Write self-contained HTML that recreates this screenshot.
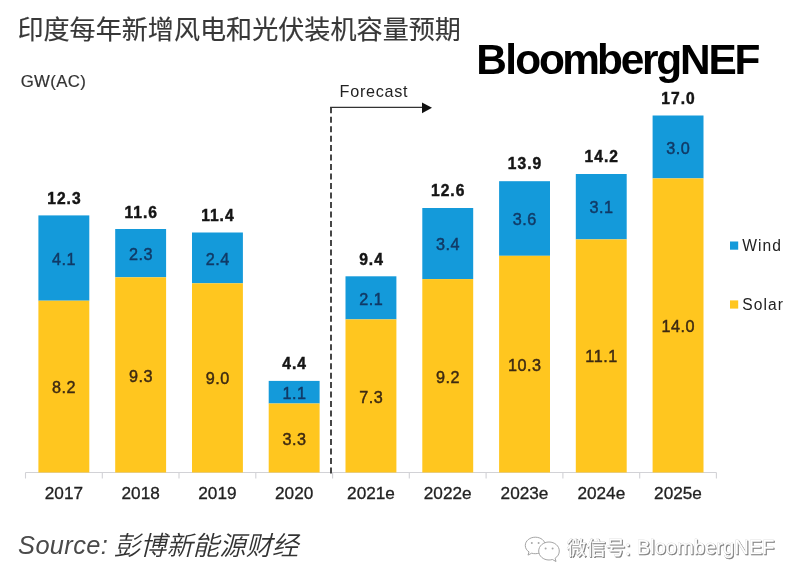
<!DOCTYPE html>
<html lang="zh">
<head>
<meta charset="utf-8">
<title>印度每年新增风电和光伏装机容量预期</title>
<style>
html,body{margin:0;padding:0;background:#fff;}
body{width:800px;height:585px;overflow:hidden;position:relative;}
svg{display:block;position:absolute;left:0;top:0;}
text{font-family:"Liberation Sans","Noto Sans CJK SC",sans-serif;}
.lat{font-family:"Liberation Sans",sans-serif;}
.cjk{font-family:"Liberation Sans","Noto Sans CJK SC",sans-serif;}
.tot{font-weight:bold;font-size:15.6px;fill:#151515;text-anchor:middle;letter-spacing:1.0px;stroke:#151515;stroke-width:0.45px;}
.val{font-size:16.2px;fill:#113a66;text-anchor:middle;letter-spacing:0.5px;stroke:#113a66;stroke-width:0.45px;}
.vals{font-size:16.2px;fill:#3d2a12;text-anchor:middle;letter-spacing:0.5px;stroke:#3d2a12;stroke-width:0.45px;}
.cat{font-size:17.2px;fill:#222;text-anchor:middle;stroke:#222;stroke-width:0.3px;}
</style>
</head>
<body>
<svg width="800" height="585" viewBox="0 0 800 585">
<defs><filter id="sh" x="-5%" y="-30%" width="110%" height="160%"><feOffset in="SourceAlpha" dx="0.9" dy="0.9" result="o"/><feFlood flood-color="#7d7d7d"/><feComposite in2="o" operator="in" result="s"/><feMerge><feMergeNode in="s"/><feMergeNode in="SourceGraphic"/></feMerge></filter></defs>
<rect x="0" y="0" width="800" height="585" fill="#ffffff"/>
<text class="cjk" transform="translate(17.4 39.2) scale(1 1.01)" font-size="26.1" fill="#383838" stroke="#383838" stroke-width="0.15">印度每年新增风电和光伏装机容量预期</text>
<text class="lat" x="476.2" y="74.1" font-size="42.4" font-weight="bold" fill="#000" letter-spacing="-2.22" dx="0 0.6 0.5 0 -0.5 -0.6">BloombergNEF</text>
<text class="lat" x="20.7" y="86.8" font-size="16.8" fill="#333" letter-spacing="0.35" stroke="#333" stroke-width="0.2">GW(AC)</text>
<text class="lat" x="339.6" y="97.3" font-size="16.2" fill="#222" letter-spacing="0.7">Forecast</text>
<path d="M25.5 472.5H716.4" stroke="#d2d2d6" stroke-width="1.1" fill="none"/>
<path d="M25.5 472.5V478.5M102.3 472.5V478.5M179.0 472.5V478.5M255.8 472.5V478.5M332.6 472.5V478.5M409.3 472.5V478.5M486.1 472.5V478.5M562.9 472.5V478.5M639.7 472.5V478.5M716.4 472.5V478.5" stroke="#d2d2d6" stroke-width="1.1" fill="none"/>
<rect x="38.4" y="215.4" width="50.9" height="85.3" fill="#149ada"/><rect x="38.4" y="300.7" width="50.9" height="171.8" fill="#ffc61f"/>
<text class="lat tot" x="64.4" y="203.6">12.3</text><text class="lat val" x="64.1" y="264.7">4.1</text><text class="lat vals" x="64.1" y="393.4">8.2</text><text class="lat cat" x="63.9" y="499.2">2017</text>
<rect x="115.2" y="229.0" width="50.9" height="48.3" fill="#149ada"/><rect x="115.2" y="277.3" width="50.9" height="195.2" fill="#ffc61f"/>
<text class="lat tot" x="141.2" y="218.3">11.6</text><text class="lat val" x="140.9" y="259.8">2.3</text><text class="lat vals" x="140.9" y="381.7">9.3</text><text class="lat cat" x="140.7" y="499.2">2018</text>
<rect x="192.0" y="232.5" width="50.9" height="50.8" fill="#149ada"/><rect x="192.0" y="283.3" width="50.9" height="189.2" fill="#ffc61f"/>
<text class="lat tot" x="217.9" y="220.7">11.4</text><text class="lat val" x="217.7" y="264.5">2.4</text><text class="lat vals" x="217.7" y="383.7">9.0</text><text class="lat cat" x="217.4" y="499.2">2019</text>
<rect x="268.7" y="380.9" width="50.9" height="22.6" fill="#149ada"/><rect x="268.7" y="403.5" width="50.9" height="69.0" fill="#ffc61f"/>
<text class="lat tot" x="294.7" y="369.1">4.4</text><text class="lat val" x="294.4" y="398.8">1.1</text><text class="lat vals" x="294.4" y="444.8">3.3</text><text class="lat cat" x="294.2" y="499.2">2020</text>
<rect x="345.5" y="276.3" width="50.9" height="43.1" fill="#149ada"/><rect x="345.5" y="319.4" width="50.9" height="153.1" fill="#ffc61f"/>
<text class="lat tot" x="371.5" y="264.5">9.4</text><text class="lat val" x="371.2" y="304.5">2.1</text><text class="lat vals" x="371.2" y="402.8">7.3</text><text class="lat cat" x="371.0" y="499.2">2021e</text>
<rect x="422.3" y="208.0" width="50.9" height="71.1" fill="#149ada"/><rect x="422.3" y="279.1" width="50.9" height="193.4" fill="#ffc61f"/>
<text class="lat tot" x="448.2" y="196.2">12.6</text><text class="lat val" x="448.0" y="250.2">3.4</text><text class="lat vals" x="448.0" y="382.6">9.2</text><text class="lat cat" x="447.7" y="499.2">2022e</text>
<rect x="499.1" y="181.2" width="50.9" height="74.6" fill="#149ada"/><rect x="499.1" y="255.8" width="50.9" height="216.7" fill="#ffc61f"/>
<text class="lat tot" x="525.0" y="169.4">13.9</text><text class="lat val" x="524.8" y="225.1">3.6</text><text class="lat vals" x="524.8" y="370.9">10.3</text><text class="lat cat" x="524.5" y="499.2">2023e</text>
<rect x="575.8" y="174.0" width="50.9" height="65.4" fill="#149ada"/><rect x="575.8" y="239.4" width="50.9" height="233.1" fill="#ffc61f"/>
<text class="lat tot" x="601.8" y="162.2">14.2</text><text class="lat val" x="601.5" y="213.3">3.1</text><text class="lat vals" x="601.5" y="361.8">11.1</text><text class="lat cat" x="601.3" y="499.2">2024e</text>
<rect x="652.6" y="115.5" width="50.9" height="62.9" fill="#149ada"/><rect x="652.6" y="178.4" width="50.9" height="294.1" fill="#ffc61f"/>
<text class="lat tot" x="678.5" y="103.7">17.0</text><text class="lat val" x="678.3" y="153.5">3.0</text><text class="lat vals" x="678.3" y="332.2">14.0</text><text class="lat cat" x="678.0" y="499.2">2025e</text>
<path d="M331 107.2V474" stroke="#333" stroke-width="1.8" stroke-dasharray="6 3.48" fill="none"/>
<path d="M330.1 107.4H423" stroke="#333" stroke-width="1.3" fill="none"/>
<path d="M422 102.5L432 107.8L422 113.2Z" fill="#111"/>
<rect x="730" y="241.5" width="8.2" height="8.2" fill="#149ada"/><text class="lat" x="742.3" y="250.7" font-size="15.6" fill="#222" letter-spacing="1.05">Wind</text>
<rect x="730" y="300.4" width="8.2" height="8.2" fill="#ffc61f"/><text class="lat" x="742.3" y="309.7" font-size="15.6" fill="#222" letter-spacing="1.05">Solar</text>
<text class="lat" x="18.1" y="554.0" font-size="25.4" fill="#4a4a4a" font-style="italic" letter-spacing="0.35">Source: <tspan class="cjk" x="113.7" y="554.5" font-size="26.4" fill="#333" font-weight="350" letter-spacing="0">彭博新能源财经</tspan></text>
<g fill="#fff" stroke="#9a9a9a" stroke-width="0.9" stroke-linejoin="round"><path d="M535.3 537.2c-5.6 0-10 3.7-10 8.3c0 2.6 1.4 4.9 3.7 6.4l-1 3.2l3.7-1.9c1.1 0.3 2.3 0.5 3.6 0.5c5.6 0 10-3.7 10-8.3s-4.400-8.200-10-8.200z"/><path d="M549 542c-5.700 0-10.300 4-10.300 9s4.600 9 10.300 9c1.200 0 2.300-0.200 3.400-0.500l3.600 2l-0.900-3.300c2.600-1.600 4.200-4.200 4.200-7.200c0-5-4.600-9-10.300-9z"/></g><g fill="#a8a8a8"><circle cx="531.8" cy="543" r="1"/><circle cx="538.6" cy="543" r="1"/><circle cx="545.6" cy="548.6" r="1"/><circle cx="552.6" cy="548.6" r="1"/></g>
<text class="cjk" x="566.8" y="555.3" font-size="19.5" fill="#fff" stroke="#c9c9c9" stroke-width="0.5" paint-order="stroke" filter="url(#sh)">微信号: <tspan class="lat" x="636.7" y="554.2" font-size="20" letter-spacing="0.08">BloombergNEF</tspan></text>
</svg>
</body>
</html>
